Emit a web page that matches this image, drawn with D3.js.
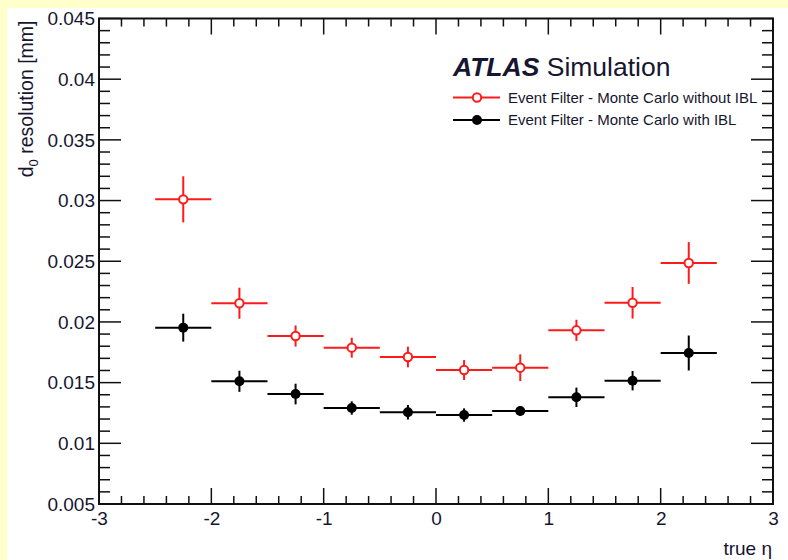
<!DOCTYPE html>
<html>
<head>
<meta charset="utf-8">
<script src="https://cdn.jsdelivr.net/npm/d3@7"></script>
<style>
  html, body { margin: 0; padding: 0; background: #ffffcc; }
  svg { display: block; }
  text { font-family: "Liberation Sans", Arial, Helvetica, sans-serif; fill: #161630; }
</style>
</head>
<body>
<svg id="chart" width="788" height="560"></svg>
<script>
// eta bin centres (bin width 0.5)
const etaBins = [-2.25, -1.75, -1.25, -0.75, -0.25, 0.25, 0.75, 1.25, 1.75, 2.25];
const binHalfWidth = 0.25;

// d0 resolution [mm] — Event Filter, Monte Carlo without IBL
const noIblValues = [0.0301, 0.02154, 0.01884, 0.01788, 0.01711, 0.01604, 0.01623, 0.01931, 0.02158, 0.02486];
const noIblErrors = [0.0019, 0.00128, 0.00087, 0.00082, 0.00085, 0.00082, 0.0011, 0.00087, 0.0013, 0.00172];

// d0 resolution [mm] — Event Filter, Monte Carlo with IBL
const iblValues = [0.01953, 0.01511, 0.01406, 0.01291, 0.01256, 0.01233, 0.01266, 0.01379, 0.01516, 0.01744];
const iblErrors = [0.00115, 0.00087, 0.00085, 0.00055, 0.0006, 0.00055, 0.0004, 0.0008, 0.0008, 0.00144];

const xTickValues = [-3, -2, -1, 0, 1, 2, 3];
const xTickLabels = ["-3", "-2", "-1", "0", "1", "2", "3"];
const yTickValues = [0.005, 0.01, 0.015, 0.02, 0.025, 0.03, 0.035, 0.04, 0.045];
const yTickLabels = ["0.005", "0.01", "0.015", "0.02", "0.025", "0.03", "0.035", "0.04", "0.045"];

const legendLabels = ["Event Filter - Monte Carlo without IBL", "Event Filter - Monte Carlo with IBL"];

const svg = d3.select("#chart");

// white canvas inside the yellow border
svg.append("rect").attr("x", 7).attr("y", 8).attr("width", 781).attr("height", 552).attr("fill", "#ffffff");

const frame = { left: 99, right: 773, top: 18.5, bottom: 504 };

const x = d3.scaleLinear().domain([-3, 3]).range([frame.left, frame.right]);
const y = d3.scaleLinear().domain([0.005, 0.045]).range([frame.bottom, frame.top]);

const axisColor = "#111";

// ticks on all four sides, drawn inward
const xMinor = d3.range(-3, 3.0001, 0.2).map(v => +v.toFixed(2));
const yMinor = d3.range(0.005, 0.04501, 0.001).map(v => +v.toFixed(4));

const g = svg.append("g");

function isMajorX(v) { return xTickValues.some(t => Math.abs(t - v) < 1e-6); }
function isMajorY(v) { return yTickValues.some(t => Math.abs(t - v) < 1e-7); }

// bottom & top ticks
xMinor.forEach(v => {
  const len = isMajorX(v) ? 16 : 8;
  const px = x(v);
  g.append("line").attr("x1", px).attr("x2", px).attr("y1", frame.bottom).attr("y2", frame.bottom - len)
    .attr("stroke", axisColor).attr("stroke-width", 1.5);
  g.append("line").attr("x1", px).attr("x2", px).attr("y1", frame.top).attr("y2", frame.top + len)
    .attr("stroke", axisColor).attr("stroke-width", 1.5);
});
// left & right ticks
yMinor.forEach(v => {
  const len = isMajorY(v) ? 22 : 11;
  const py = y(v);
  g.append("line").attr("x1", frame.left).attr("x2", frame.left + len).attr("y1", py).attr("y2", py)
    .attr("stroke", axisColor).attr("stroke-width", 1.5);
  g.append("line").attr("x1", frame.right).attr("x2", frame.right - len).attr("y1", py).attr("y2", py)
    .attr("stroke", axisColor).attr("stroke-width", 1.5);
});

// frame
g.append("rect").attr("x", frame.left).attr("y", frame.top)
  .attr("width", frame.right - frame.left).attr("height", frame.bottom - frame.top)
  .attr("fill", "none").attr("stroke", axisColor).attr("stroke-width", 2);

// axis labels via d3 axes (lines hidden, text kept)
const xAxis = d3.axisBottom(x).tickValues(xTickValues).tickSize(0).tickPadding(0)
  .tickFormat((d, i) => xTickLabels[i]);
const xg = svg.append("g").attr("transform", `translate(0,${frame.bottom})`).call(xAxis);
xg.select(".domain").remove();
xg.selectAll("text").attr("y", 21).attr("dy", 0).style("font-size", "19px").attr("fill", "#161630");

const yAxis = d3.axisLeft(y).tickValues(yTickValues).tickSize(0).tickPadding(0)
  .tickFormat((d, i) => yTickLabels[i]);
const yg = svg.append("g").attr("transform", `translate(${frame.left},0)`).call(yAxis);
yg.select(".domain").remove();
yg.selectAll("text").attr("x", -4).attr("dy", "0.33em").style("font-size", "19px").attr("fill", "#161630");

// axis titles
const yTitle = svg.append("text")
  .attr("transform", `translate(33,${frame.top + 2}) rotate(-90)`)
  .attr("text-anchor", "end")
  .style("font-size", "19.5px");
yTitle.append("tspan").text("d");
yTitle.append("tspan").attr("dy", 5).style("font-size", "13px").text("0");
yTitle.append("tspan").attr("dy", -5).text(" resolution [mm]");

svg.append("text")
  .attr("x", frame.right - 1).attr("y", 555)
  .attr("text-anchor", "end")
  .style("font-size", "19px")
  .text("true η");

// data series
function drawSeries(values, errors, color, filled) {
  const s = svg.append("g");
  etaBins.forEach((eta, i) => {
    const cx = x(eta), cy = y(values[i]);
    s.append("line").attr("x1", x(eta - binHalfWidth)).attr("x2", x(eta + binHalfWidth))
      .attr("y1", cy).attr("y2", cy).attr("stroke", color).attr("stroke-width", 2);
    s.append("line").attr("x1", cx).attr("x2", cx)
      .attr("y1", y(values[i] + errors[i])).attr("y2", y(values[i] - errors[i]))
      .attr("stroke", color).attr("stroke-width", 2);
    s.append("circle").attr("cx", cx).attr("cy", cy).attr("r", filled ? 5 : 4.2)
      .attr("fill", filled ? color : "#ffffff").attr("stroke", color).attr("stroke-width", filled ? 0 : 2);
  });
}
drawSeries(noIblValues, noIblErrors, "#ff1a1a", false);
drawSeries(iblValues, iblErrors, "#000000", true);

// title block
const title = svg.append("text").attr("x", 453).attr("y", 76).style("font-size", "26.5px");
title.append("tspan").style("font-weight", "bold").style("font-style", "italic").text("ATLAS");
title.append("tspan").text(" Simulation");

// legend
const legendColors = ["#ff1a1a", "#000000"];
const legendFilled = [false, true];
const legendY = [97.5, 120];
legendLabels.forEach((lab, i) => {
  const lg = svg.append("g");
  lg.append("line").attr("x1", 453).attr("x2", 500).attr("y1", legendY[i]).attr("y2", legendY[i])
    .attr("stroke", legendColors[i]).attr("stroke-width", 2);
  lg.append("circle").attr("cx", 477).attr("cy", legendY[i]).attr("r", legendFilled[i] ? 5 : 4.2)
    .attr("fill", legendFilled[i] ? legendColors[i] : "#ffffff")
    .attr("stroke", legendColors[i]).attr("stroke-width", legendFilled[i] ? 0 : 2);
  lg.append("text").attr("x", 508).attr("y", legendY[i]).attr("dy", "0.36em")
    .style("font-size", "15px").text(lab);
});
</script>
</body>
</html>
